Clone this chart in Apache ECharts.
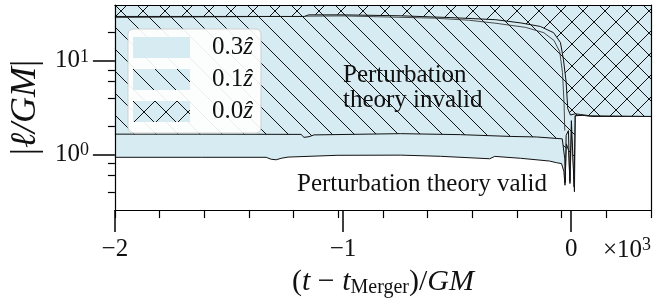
<!DOCTYPE html>
<html><head><meta charset="utf-8">
<script src="https://cdn.jsdelivr.net/npm/echarts@6/dist/echarts.min.js"></script>
<style>html,body{margin:0;padding:0;background:#fff}#c{width:672px;height:303px}</style>
</head><body><div id="c"></div>
<script>
// ---- data (t in units of 10^3 GM, value = |l/GM|) ----
const xMajorTicks = [-2, -1, 0];
const xMajorLabels = ['\u22122', '\u22121', '0'];
const xMinorTicks = [-2, -1.8042, -1.6083, -1.4125, -1.2167, -1.0208, -0.825, -0.6292, -0.4333, -0.2375, -0.0417, 0.1542, 0.35];
const yMajorTicks = [1, 10];
const yMajorExp = ['0', '1'];
const yMinorTicks = [0.4, 0.6, 0.8, 2, 4, 6, 8, 20];
const legendNames = ['0.3', '0.1', '0.0'];

const bound03 = [
  [-2.0, 0.934], [-1.621, 0.934], [-1.337, 0.934], [-1.315, 0.89], [-1.293, 0.879], [-1.271, 0.912],
  [-1.241, 0.939], [-1.026, 0.981], [-0.747, 0.985], [-0.572, 0.957], [-0.357, 0.901], [-0.335, 0.955],
  [-0.222, 0.912], [-0.095, 0.852], [-0.064, 0.818], [-0.042, 0.80], [-0.032, 0.66], [-0.027, 0.47],
  [-0.021, 1.3], [-0.011, 1.1], [-0.0052, 0.49], [0.002, 2.2], [0.0144, 0.40], [0.018, 2.6],
  [0.05, 2.62], [0.10, 2.56], [0.35, 2.55]
];
const bound01 = [
  [-2.0, 1.65], [-1.621, 1.65], [-1.184, 1.64], [-1.171, 1.525], [-1.149, 1.55], [-1.127, 1.62],
  [-0.747, 1.67], [-0.485, 1.63], [-0.266, 1.56], [-0.152, 1.54], [-0.039, 1.47], [-0.034, 1.44],
  [-0.028, 0.9], [-0.026, 0.5], [-0.022, 1.6], [-0.012, 1.8], [-0.006, 0.52], [0.001, 2.3],
  [0.013, 0.45], [0.017, 2.6], [0.05, 2.62], [0.10, 2.56], [0.35, 2.55]
];
const bound00 = [
  [-2.0, 29.8], [-1.6, 29.8], [-1.17, 29.8], [-1.15, 31.0], [-1.0, 31.0], [-0.75, 30.3], [-0.53, 29.0],
  [-0.33, 27.5], [-0.22, 25.4], [-0.135, 23.3], [-0.077, 20.0], [-0.047, 15.7], [-0.034, 10.4],
  [-0.022, 5.96], [-0.015, 3.1], [-0.003, 2.64], [0.0175, 2.72], [0.04, 2.68], [0.083, 2.59], [0.35, 2.55]
];
const boundExtra = [
  [-2.0, 29.0], [-1.0, 30.2], [-0.6, 28.6], [-0.45, 27.2], [-0.33, 25.2], [-0.2, 22.8], [-0.12, 20.0],
  [-0.075, 16.5], [-0.05, 12.5], [-0.038, 7.5], [-0.031, 3.5], [-0.028, 1.8]
];

const FILL = '#d6ebf2';
const SERIF = "'Liberation Serif','DejaVu Serif',serif";

function makeHatch(cross) {
  const P = 22;
  const c = document.createElement('canvas');
  c.width = P; c.height = P;
  const g = c.getContext('2d');
  g.fillStyle = FILL; g.fillRect(0, 0, P, P);
  g.strokeStyle = '#111'; g.lineWidth = 1;
  g.beginPath();
  for (let k = -1; k <= 1; k++) {
    g.moveTo(k * P - 1, -1); g.lineTo(k * P + P + 1, P + 1);
    if (cross) { g.moveTo(k * P - 1, P + 1); g.lineTo(k * P + P + 1, -1); }
  }
  g.stroke();
  return c;
}
const diag = { image: makeHatch(false), repeat: 'repeat' };
const crossP = { image: makeHatch(true), repeat: 'repeat' };
const fills = [FILL, diag, crossP];
const bounds = [bound03, bound01, bound00];

const YMIN = 0.255, YMAX = 39.5, XMIN = -2, XMAX = 0.35;

const chart = echarts.init(document.getElementById('c'), null, { renderer: 'canvas' });

const series = [];
bounds.forEach((b, i) => {
  series.push({
    name: legendNames[i], type: 'line', data: b, xAxisIndex: 0, yAxisIndex: 0,
    symbol: 'none', showSymbol: false, z: 2 + i * 2,
    lineStyle: { color: '#111', width: 1 },
    itemStyle: { color: fills[i] },
    areaStyle: { color: fills[i], opacity: 1, origin: 'end' }
  });
  if (i === 1) {
    series.push({
      name: 'extra', type: 'line', data: boundExtra, xAxisIndex: 0, yAxisIndex: 0,
      symbol: 'none', showSymbol: false, z: 5,
      lineStyle: { color: '#222', width: 0.8 }
    });
  }
});

const tickStyle = { color: '#000', width: 1.2 };
const axisLineStyle = { onZero: false, lineStyle: { color: '#000', width: 1.2 } };

chart.setOption({
  animation: false,
  grid: { left: 113, right: 21, top: 5, bottom: 90 },
  legend: {
    data: legendNames.map((n, i) => ({ name: n, icon: 'rect', itemStyle: { color: fills[i], borderWidth: 0 } })),
    orient: 'vertical', left: 128, top: 29,
    itemWidth: 57, itemHeight: 21, itemGap: 7,
    padding: [6, 8, 9, 5],
    backgroundColor: 'rgba(255,255,255,0.92)', borderColor: '#cfcfcf', borderWidth: 1, borderRadius: 5,
    formatter: n => '{n|' + n + '}{z|\u1E91}',
    textStyle: {
      rich: {
        n: { fontFamily: SERIF, fontSize: 25, color: '#111', lineHeight: 21, padding: [0, 0, 0, 17] },
        z: { fontFamily: SERIF, fontSize: 25, fontStyle: 'italic', color: '#111', lineHeight: 21 }
      }
    },
    selectedMode: false, z: 30
  },
  xAxis: [
    {
      type: 'value', min: XMIN, max: XMAX, position: 'bottom', z: 10,
      axisLine: axisLineStyle, splitLine: { show: false },
      axisTick: { customValues: xMajorTicks, length: 22, lineStyle: { color: '#000', width: 1.5 } },
      axisLabel: {
        customValues: xMajorTicks, margin: 27, color: '#111', fontFamily: SERIF, fontSize: 25,
        formatter: v => xMajorLabels[xMajorTicks.indexOf(Math.round(v))] || ''
      },
      name: '{n|(}{i|t}{n| \u2212 }{i|t}{s|Merger}{n|)/}{i|GM}', nameLocation: 'middle', nameGap: 45,
      nameTextStyle: {
        rich: {
          n: { fontFamily: SERIF, fontSize: 30, color: '#111', lineHeight: 32 },
          i: { fontFamily: SERIF, fontSize: 30, fontStyle: 'italic', color: '#111', lineHeight: 32 },
          s: { fontFamily: SERIF, fontSize: 20, color: '#111', lineHeight: 17, verticalAlign: 'bottom' }
        }
      }
    },
    {
      type: 'value', min: XMIN, max: XMAX, position: 'bottom', z: 10,
      axisLine: { show: false, onZero: false }, splitLine: { show: false },
      axisTick: { customValues: xMinorTicks, length: 8, lineStyle: tickStyle },
      axisLabel: { show: false }
    },
    {
      type: 'value', min: XMIN, max: XMAX, position: 'top', z: 10,
      axisLine: axisLineStyle, splitLine: { show: false },
      axisTick: { show: false }, axisLabel: { show: false }
    }
  ],
  yAxis: [
    {
      type: 'log', min: YMIN, max: YMAX, position: 'left', z: 10,
      axisLine: axisLineStyle, splitLine: { show: false },
      axisTick: { customValues: yMajorTicks, length: 22, lineStyle: { color: '#000', width: 1.5 } },
      axisLabel: {
        customValues: yMajorTicks, margin: 26,
        formatter: v => '{b|10}{s|' + (yMajorExp[yMajorTicks.indexOf(Math.round(v))] || '') + '}',
        rich: {
          b: { fontFamily: SERIF, fontSize: 25, color: '#111', lineHeight: 26 },
          s: { fontFamily: SERIF, fontSize: 18, color: '#111', lineHeight: 14, verticalAlign: 'top' }
        }
      },
      name: '{n||}{i|\u2113/GM}{n||}', nameLocation: 'middle', nameGap: 63, nameRotate: 90,
      nameTextStyle: {
        rich: {
          n: { fontFamily: SERIF, fontSize: 36, color: '#111' },
          i: { fontFamily: SERIF, fontSize: 36, fontStyle: 'italic', color: '#111' }
        }
      }
    },
    {
      type: 'log', min: YMIN, max: YMAX, position: 'left', z: 10,
      axisLine: { show: false, onZero: false }, splitLine: { show: false },
      axisTick: { customValues: yMinorTicks, length: 7, lineStyle: tickStyle },
      axisLabel: { show: false }
    },
    {
      type: 'log', min: YMIN, max: YMAX, position: 'right', z: 10,
      axisLine: axisLineStyle, splitLine: { show: false },
      axisTick: { show: false }, axisLabel: { show: false }
    }
  ],
  graphic: [
    {
      type: 'text', left: 343, top: 63, z: 50,
      style: { text: 'Perturbation\ntheory invalid', font: '25px ' + SERIF, fill: '#111', lineHeight: 25 }
    },
    {
      type: 'text', left: 297, top: 172, z: 50,
      style: { text: 'Perturbation theory valid', font: '25px ' + SERIF, fill: '#111' }
    },
    {
      type: 'text', right: 21, top: 236, z: 50,
      style: {
        text: '{n|\u00D710}{s|3}',
        rich: {
          n: { fontFamily: SERIF, fontSize: 25, fill: '#111', lineHeight: 28 },
          s: { fontFamily: SERIF, fontSize: 18, fill: '#111', lineHeight: 14, verticalAlign: 'top' }
        }
      }
    }
  ],
  series: series
});
</script></body></html>
